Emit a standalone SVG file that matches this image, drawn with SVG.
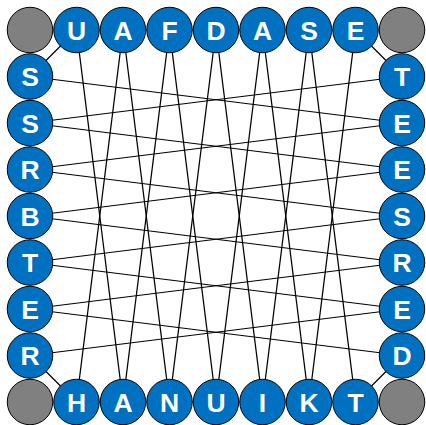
<svg xmlns="http://www.w3.org/2000/svg" width="426" height="425" viewBox="0 0 426 425">
<style>
.ln{stroke:#000;stroke-width:1.2;fill:none}
.n circle{fill:#0070C0;stroke:#000;stroke-width:1}
.c circle{fill:#808080;stroke:#000;stroke-width:1}
.n text{fill:#fff;font-family:"Liberation Sans",Arial,sans-serif;font-weight:bold;font-size:26.5px;text-anchor:middle}
</style>
<rect width="426" height="425" fill="#fff"/>
<g id="connectors" class="ln">
<line x1="76.5" y1="30" x2="123" y2="402"/>
<line x1="123" y1="30" x2="76.5" y2="402"/>
<line x1="123" y1="30" x2="169.5" y2="402"/>
<line x1="169.5" y1="30" x2="123" y2="402"/>
<line x1="169.5" y1="30" x2="216" y2="402"/>
<line x1="216" y1="30" x2="169.5" y2="402"/>
<line x1="216" y1="30" x2="262.5" y2="402"/>
<line x1="262.5" y1="30" x2="216" y2="402"/>
<line x1="262.5" y1="30" x2="309" y2="402"/>
<line x1="309" y1="30" x2="262.5" y2="402"/>
<line x1="309" y1="30" x2="355.5" y2="402"/>
<line x1="355.5" y1="30" x2="309" y2="402"/>
<line y1="76.5" x1="30" y2="123" x2="402"/>
<line y1="123" x1="30" y2="76.5" x2="402"/>
<line y1="123" x1="30" y2="169.5" x2="402"/>
<line y1="169.5" x1="30" y2="123" x2="402"/>
<line y1="169.5" x1="30" y2="216" x2="402"/>
<line y1="216" x1="30" y2="169.5" x2="402"/>
<line y1="216" x1="30" y2="262.5" x2="402"/>
<line y1="262.5" x1="30" y2="216" x2="402"/>
<line y1="262.5" x1="30" y2="309" x2="402"/>
<line y1="309" x1="30" y2="262.5" x2="402"/>
<line y1="309" x1="30" y2="355.5" x2="402"/>
<line y1="355.5" x1="30" y2="309" x2="402"/>
<line x1="30" y1="76.5" x2="76.5" y2="30"/>
<line x1="355.5" y1="30" x2="402" y2="76.5"/>
<line x1="30" y1="355.5" x2="76.5" y2="402"/>
<line x1="402" y1="355.5" x2="355.5" y2="402"/>
</g>
<g id="corner-tl" class="c"><circle cx="30" cy="30" r="22.75"/></g>
<g id="corner-tr" class="c"><circle cx="402" cy="30" r="22.75"/></g>
<g id="corner-bl" class="c"><circle cx="30" cy="402" r="22.75"/></g>
<g id="corner-br" class="c"><circle cx="402" cy="402" r="22.75"/></g>
<g id="t1" class="n"><circle cx="76.5" cy="30" r="22.75"/><text x="76.5" y="39.5">U</text></g>
<g id="t2" class="n"><circle cx="123" cy="30" r="22.75"/><text x="123" y="39.5">A</text></g>
<g id="t3" class="n"><circle cx="169.5" cy="30" r="22.75"/><text x="169.5" y="39.5">F</text></g>
<g id="t4" class="n"><circle cx="216" cy="30" r="22.75"/><text x="216" y="39.5">D</text></g>
<g id="t5" class="n"><circle cx="262.5" cy="30" r="22.75"/><text x="262.5" y="39.5">A</text></g>
<g id="t6" class="n"><circle cx="309" cy="30" r="22.75"/><text x="309" y="39.5">S</text></g>
<g id="t7" class="n"><circle cx="355.5" cy="30" r="22.75"/><text x="355.5" y="39.5">E</text></g>
<g id="b1" class="n"><circle cx="76.5" cy="402" r="22.75"/><text x="76.5" y="411.5">H</text></g>
<g id="b2" class="n"><circle cx="123" cy="402" r="22.75"/><text x="123" y="411.5">A</text></g>
<g id="b3" class="n"><circle cx="169.5" cy="402" r="22.75"/><text x="169.5" y="411.5">N</text></g>
<g id="b4" class="n"><circle cx="216" cy="402" r="22.75"/><text x="216" y="411.5">U</text></g>
<g id="b5" class="n"><circle cx="262.5" cy="402" r="22.75"/><text x="262.5" y="411.5">I</text></g>
<g id="b6" class="n"><circle cx="309" cy="402" r="22.75"/><text x="309" y="411.5">K</text></g>
<g id="b7" class="n"><circle cx="355.5" cy="402" r="22.75"/><text x="355.5" y="411.5">T</text></g>
<g id="l1" class="n"><circle cx="30" cy="76.5" r="22.75"/><text x="30" y="86">S</text></g>
<g id="l2" class="n"><circle cx="30" cy="123" r="22.75"/><text x="30" y="132.5">S</text></g>
<g id="l3" class="n"><circle cx="30" cy="169.5" r="22.75"/><text x="30" y="179">R</text></g>
<g id="l4" class="n"><circle cx="30" cy="216" r="22.75"/><text x="30" y="225.5">B</text></g>
<g id="l5" class="n"><circle cx="30" cy="262.5" r="22.75"/><text x="30" y="272">T</text></g>
<g id="l6" class="n"><circle cx="30" cy="309" r="22.75"/><text x="30" y="318.5">E</text></g>
<g id="l7" class="n"><circle cx="30" cy="355.5" r="22.75"/><text x="30" y="365">R</text></g>
<g id="r1" class="n"><circle cx="402" cy="76.5" r="22.75"/><text x="402" y="86">T</text></g>
<g id="r2" class="n"><circle cx="402" cy="123" r="22.75"/><text x="402" y="132.5">E</text></g>
<g id="r3" class="n"><circle cx="402" cy="169.5" r="22.75"/><text x="402" y="179">E</text></g>
<g id="r4" class="n"><circle cx="402" cy="216" r="22.75"/><text x="402" y="225.5">S</text></g>
<g id="r5" class="n"><circle cx="402" cy="262.5" r="22.75"/><text x="402" y="272">R</text></g>
<g id="r6" class="n"><circle cx="402" cy="309" r="22.75"/><text x="402" y="318.5">E</text></g>
<g id="r7" class="n"><circle cx="402" cy="355.5" r="22.75"/><text x="402" y="365">D</text></g>
</svg>
